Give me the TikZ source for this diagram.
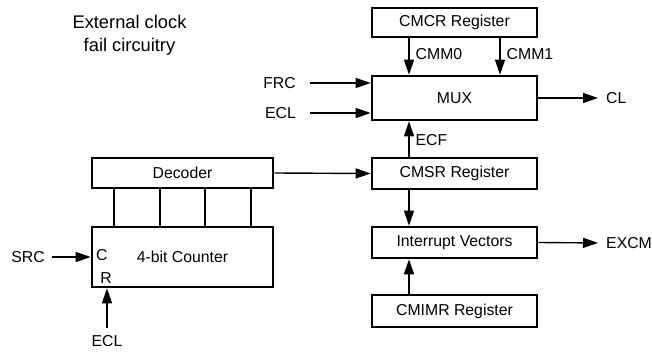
\documentclass[tikz,border=0pt]{standalone}
\usepackage{fontspec}
\setmainfont{Liberation Sans}
\usetikzlibrary{arrows.meta}
\begin{document}
\begin{tikzpicture}[x=1pt,y=-1pt,
  blk/.style={draw, line width=2.6pt, minimum width=165pt, inner sep=0pt, font=\fontsize{15.8}{18}\selectfont},
  lbl/.style={inner sep=2pt, font=\fontsize{15.8}{18}\selectfont},
  arr/.style={line width=1.4pt, -{Triangle[length=15pt,width=10pt]}},
  wire/.style={line width=1.4pt}]
\useasboundingbox (0,0) rectangle (652,352);
% right column
\node[blk, minimum height=29pt] (cmcr) at (454.5,22.5) {CMCR Register};
\node[blk, minimum height=44pt] (mux) at (454.5,98) {MUX};
\node[blk, minimum height=31pt] (cmsr) at (454.5,173.5) {CMSR Register};
\node[blk, minimum height=31pt] (iv) at (454.5,242.5) {Interrupt Vectors};
\node[blk, minimum height=32pt] (cmimr) at (454.5,311) {CMIMR Register};
% left column
\node[blk, minimum width=181pt, minimum height=30pt] (dec) at (182.5,173) {Decoder};
\node[blk, minimum width=181pt, minimum height=60pt] (cnt) at (182.5,257) {4-bit Counter};
% title
\node[align=center, font=\fontsize{18.3}{23}\selectfont, inner sep=0pt] (title) at (129.5,35) {External clock\\fail circuitry};
% labels
\node[lbl, anchor=east] (frc) at (298,83) {FRC};
\node[lbl, anchor=east] (ecl1) at (298,113) {ECL};
\node[lbl, anchor=west] (cl) at (604,98) {CL};
\node[lbl, anchor=west] (excm) at (604,243) {EXCM};
\node[lbl, anchor=east] (src) at (47,257) {SRC};
\node[lbl, anchor=north] (ecl2) at (107,333) {ECL};
\node[lbl, anchor=west] (c) at (94,255) {C};
\node[lbl, anchor=center] (r) at (106,278) {R};
% CMCR to MUX
\coordinate (m0) at (409,37);
\coordinate (m1) at (500,37);
\draw[arr] (m0) -- (m0 |- mux.north) node[pos=0.45, right=4pt, lbl] {CMM0};
\draw[arr] (m1) -- (m1 |- mux.north) node[pos=0.45, right=4pt, lbl] {CMM1};
% inputs to MUX
\draw[arr, shorten <=12pt] (frc.east) -- (frc.east -| mux.west);
\draw[arr, shorten <=12pt] (ecl1.east) -- (ecl1.east -| mux.west);
% MUX to CL
\draw[arr, shorten >=6pt] (mux.east) -- (cl.west);
% CMSR to MUX (ECF)
\coordinate (e0) at (409,158);
\draw[arr] (e0) -- (e0 |- mux.south) node[pos=0.5, right=4pt, lbl] {ECF};
% decoder to CMSR
\draw[arr] (dec.east) -- (cmsr.west);
% CMSR to IV
\draw[arr] (e0 |- cmsr.south) -- (e0 |- iv.north);
% CMIMR to IV
\draw[arr] (e0 |- cmimr.north) -- (e0 |- iv.south);
% IV to EXCM
\draw[arr, shorten >=6pt] (iv.east) -- (excm.west);
% decoder-counter wires
\foreach \x in {114,160,205,251}
  \draw[wire] (\x,188) -- (\x,227);
% SRC to counter
\draw[arr, shorten <=5pt] (src.east) -- (cnt.west |- src.east);
% ECL to counter
\draw[arr, shorten <=5pt] (ecl2.north) -- (ecl2.north |- cnt.south);
\end{tikzpicture}
\end{document}
